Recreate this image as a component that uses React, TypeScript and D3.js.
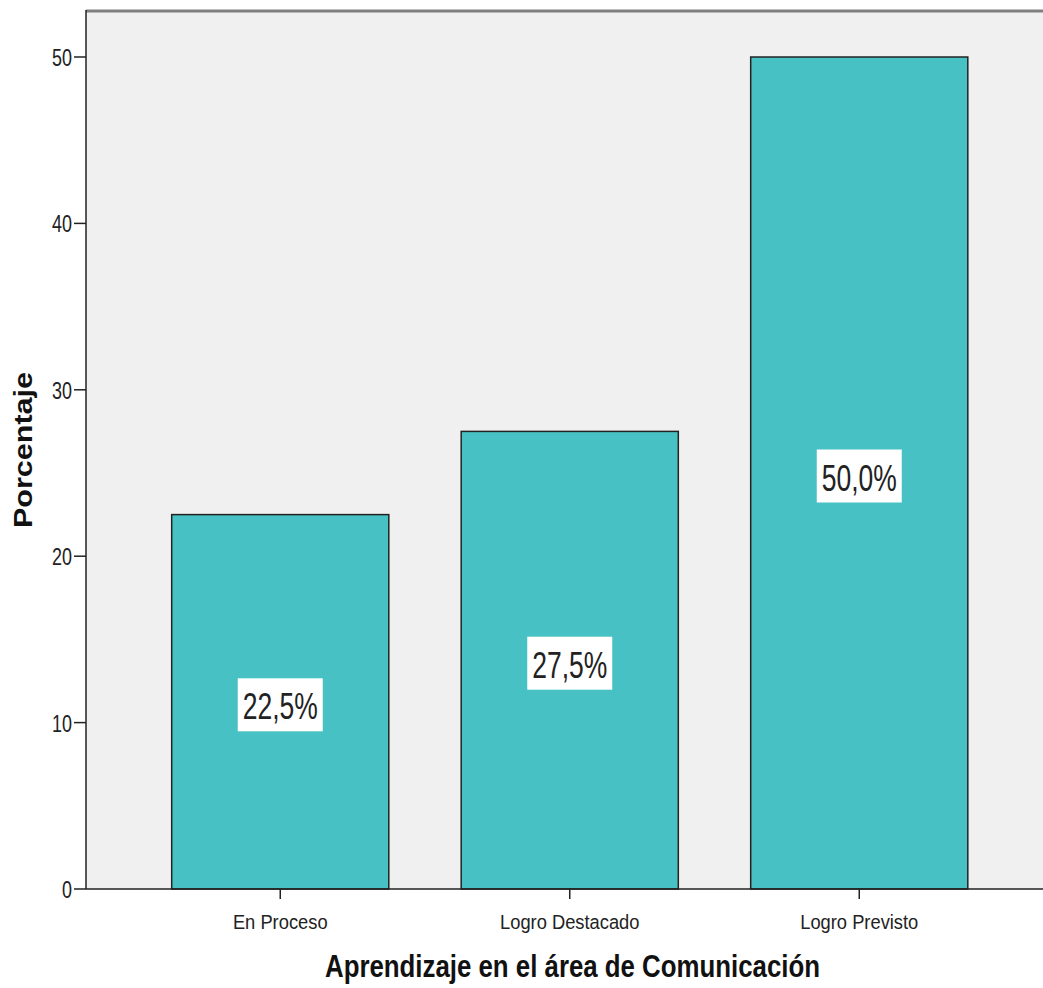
import React from "react";
import * as d3 from "d3";

const categories = ["En Proceso", "Logro Destacado", "Logro Previsto"];
const values = [22.5, 27.5, 50.0];
const labels = ["22,5%", "27,5%", "50,0%"];
const yTicks = [0, 10, 20, 30, 40, 50];

const W = 1043;
const H = 988;
const plotLeft = 86;
const plotTop = 10;
const plotBottom = 889;
const FONT = "'Liberation Sans', Arial, Helvetica, sans-serif";

function SText(props: {
  x: number;
  y: number;
  sx: number;
  size: number;
  anchor?: string;
  weight?: string;
  fill?: string;
  children: React.ReactNode;
}) {
  const { x, y, sx, size, anchor = "middle", weight = "normal", fill = "#222", children } = props;
  return (
    <text
      transform={`translate(${x},${y}) scale(${sx},1)`}
      textAnchor={anchor}
      fontFamily={FONT}
      fontSize={size}
      fontWeight={weight}
      fill={fill}
    >
      {children}
    </text>
  );
}

export default function App() {
  const x = d3
    .scaleBand<string>()
    .domain(categories)
    .range([135.5, 1004])
    .paddingInner(0.25)
    .paddingOuter(0.125);
  const y = d3.scaleLinear().domain([0, 50]).range([plotBottom, 57]);

  return (
    <svg width={W} height={H} style={{ position: "absolute", left: 0, top: 0, background: "#fff" }}>
      <rect x={plotLeft} y={plotTop} width={W - plotLeft} height={plotBottom - plotTop} fill="#F0F0F0" />
      <line x1={plotLeft} x2={W} y1={plotTop + 1} y2={plotTop + 1} stroke="#808080" strokeWidth={3} />
      {categories.map((c, i) => {
        const bx = x(c)!;
        const bw = x.bandwidth();
        const top = y(values[i]);
        const mid = y(values[i] / 2);
        const cx = bx + bw / 2;
        return (
          <g key={c}>
            <rect x={bx} y={top} width={bw} height={plotBottom - top} fill="#48C1C4" stroke="#222" strokeWidth={1.5} />
            <rect x={cx - 42.5} y={mid - 23.5} width={85} height={53} fill="#fff" />
            <SText x={cx} y={mid + 17.5} sx={0.735} size={36}>
              {labels[i]}
            </SText>
            <line x1={cx} x2={cx} y1={plotBottom} y2={plotBottom + 10} stroke="#222" strokeWidth={1.5} />
            <SText x={cx} y={plotBottom + 40} sx={0.94} size={19.5}>
              {c}
            </SText>
          </g>
        );
      })}
      <line x1={plotLeft} x2={plotLeft} y1={plotTop} y2={plotBottom} stroke="#222" strokeWidth={1.5} />
      <line x1={plotLeft} x2={W} y1={plotBottom} y2={plotBottom} stroke="#222" strokeWidth={1.5} />
      {yTicks.map((t) => (
        <g key={t}>
          <line x1={plotLeft - 12} x2={plotLeft} y1={y(t)} y2={y(t)} stroke="#222" strokeWidth={1.5} />
          <SText x={72} y={y(t) + 9} sx={0.78} size={23} anchor="end">
            {t}
          </SText>
        </g>
      ))}
      <text
        transform={`translate(32, 450) rotate(-90)`}
        textAnchor="middle"
        fontFamily={FONT}
        fontWeight="bold"
        fontSize={26}
        fill="#111"
        textLength={156}
        lengthAdjust="spacingAndGlyphs"
      >
        Porcentaje
      </text>
      <text
        x={572.5}
        y={977}
        textAnchor="middle"
        fontFamily={FONT}
        fontWeight="bold"
        fontSize={31}
        fill="#111"
        textLength={495}
        lengthAdjust="spacingAndGlyphs"
      >
        Aprendizaje en el área de Comunicación
      </text>
    </svg>
  );
}
